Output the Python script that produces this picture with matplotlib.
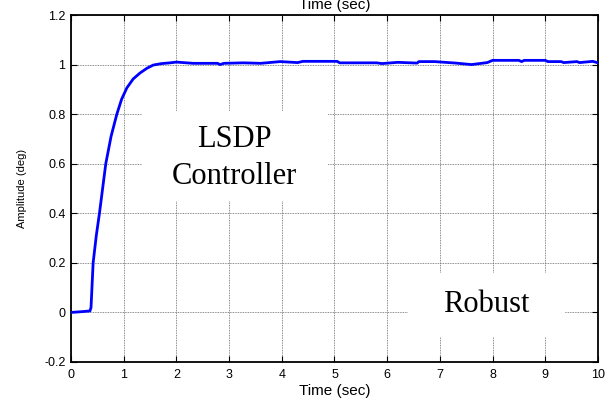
import matplotlib.pyplot as plt
from matplotlib.patches import Rectangle

# step response
t = [0.0, 0.20, 0.36, 0.38, 0.42, 0.48, 0.54, 0.60, 0.66, 0.76, 0.87, 0.96, 1.06,
     1.18, 1.31, 1.44, 1.56, 1.72, 1.88, 2.0, 2.32, 2.78, 2.83, 2.9, 3.27, 3.6, 3.97,
     4.3, 4.4, 5.05, 5.1, 5.8, 5.9, 6.2, 6.57, 6.6, 6.9, 7.3, 7.6, 7.9, 8.0,
     8.5, 8.55, 8.6, 9.0, 9.05, 9.3, 9.35, 9.6, 9.65, 9.9, 10.0]
amp = [0.0, 0.003, 0.006, 0.02, 0.2, 0.31, 0.40, 0.50, 0.60, 0.71, 0.80, 0.86, 0.906,
       0.942, 0.966, 0.985, 0.998, 1.004, 1.007, 1.01, 1.005, 1.005, 1.0, 1.005, 1.007,
       1.005, 1.012, 1.008, 1.013, 1.013, 1.007, 1.007, 1.004, 1.009, 1.006, 1.012,
       1.012, 1.006, 1.0, 1.008, 1.017, 1.017, 1.012, 1.017, 1.017, 1.012, 1.012,
       1.008, 1.012, 1.008, 1.013, 1.007]

xticks = list(range(0, 11))
yticks = [-0.2, 0, 0.2, 0.4, 0.6, 0.8, 1, 1.2]
ytick_labels = ['-0.2', '0', '0.2', '0.4', '0.6', '0.8', '1', '1.2']

plt.rcParams['font.family'] = 'Liberation Sans'

fig = plt.figure(figsize=(6.11, 4.0), dpi=100)
ax = fig.add_axes([0.1162, 0.095, 0.8625, 0.8675])

ax.plot(t, amp, color='#0000ff', linewidth=2, zorder=3)

ax.set_xlim(0, 10)
ax.set_ylim(-0.2, 1.2)
ax.set_xticks(xticks)
ax.set_yticks(yticks)
ax.set_yticklabels(ytick_labels)
ax.tick_params(direction='in', length=4, width=0.8, labelsize=9,
               top=True, right=True)
ax.tick_params(axis='x', pad=5)
ax.tick_params(axis='y', pad=4)
for s in ax.spines.values():
    s.set_linewidth(1.3)

ax.grid(True, color='0.4', linestyle=(0, (1, 1)), linewidth=0.6)
ax.set_axisbelow(True)

ax.set_xlabel('Time (sec)', fontsize=11, labelpad=2)
ax.set_ylabel('Amplitude (deg)', fontsize=8, labelpad=12)
# the reference has this one clipped at the top edge
ax.set_title('Time (sec)', fontsize=11, pad=4)

# white boxes that hide the grid behind the annotations
ax.add_patch(Rectangle((1.35, 0.448), 3.53, 0.363, facecolor='white',
                       edgecolor='none', zorder=2))
ax.add_patch(Rectangle((6.39, -0.10), 2.98, 0.261, facecolor='white',
                       edgecolor='none', zorder=2))

serif = 'Liberation Serif'
ax.text(3.105, 0.666, 'LSDP', fontsize=22, family=serif,
        ha='center', va='baseline', zorder=4)
ax.text(3.105, 0.517, 'Controller', fontsize=22, family=serif,
        ha='center', va='baseline', zorder=4)
ax.text(7.88, 0.0, 'Robust', fontsize=22, family=serif,
        ha='center', va='baseline', zorder=4)

fig.savefig('out.png', dpi=100)
